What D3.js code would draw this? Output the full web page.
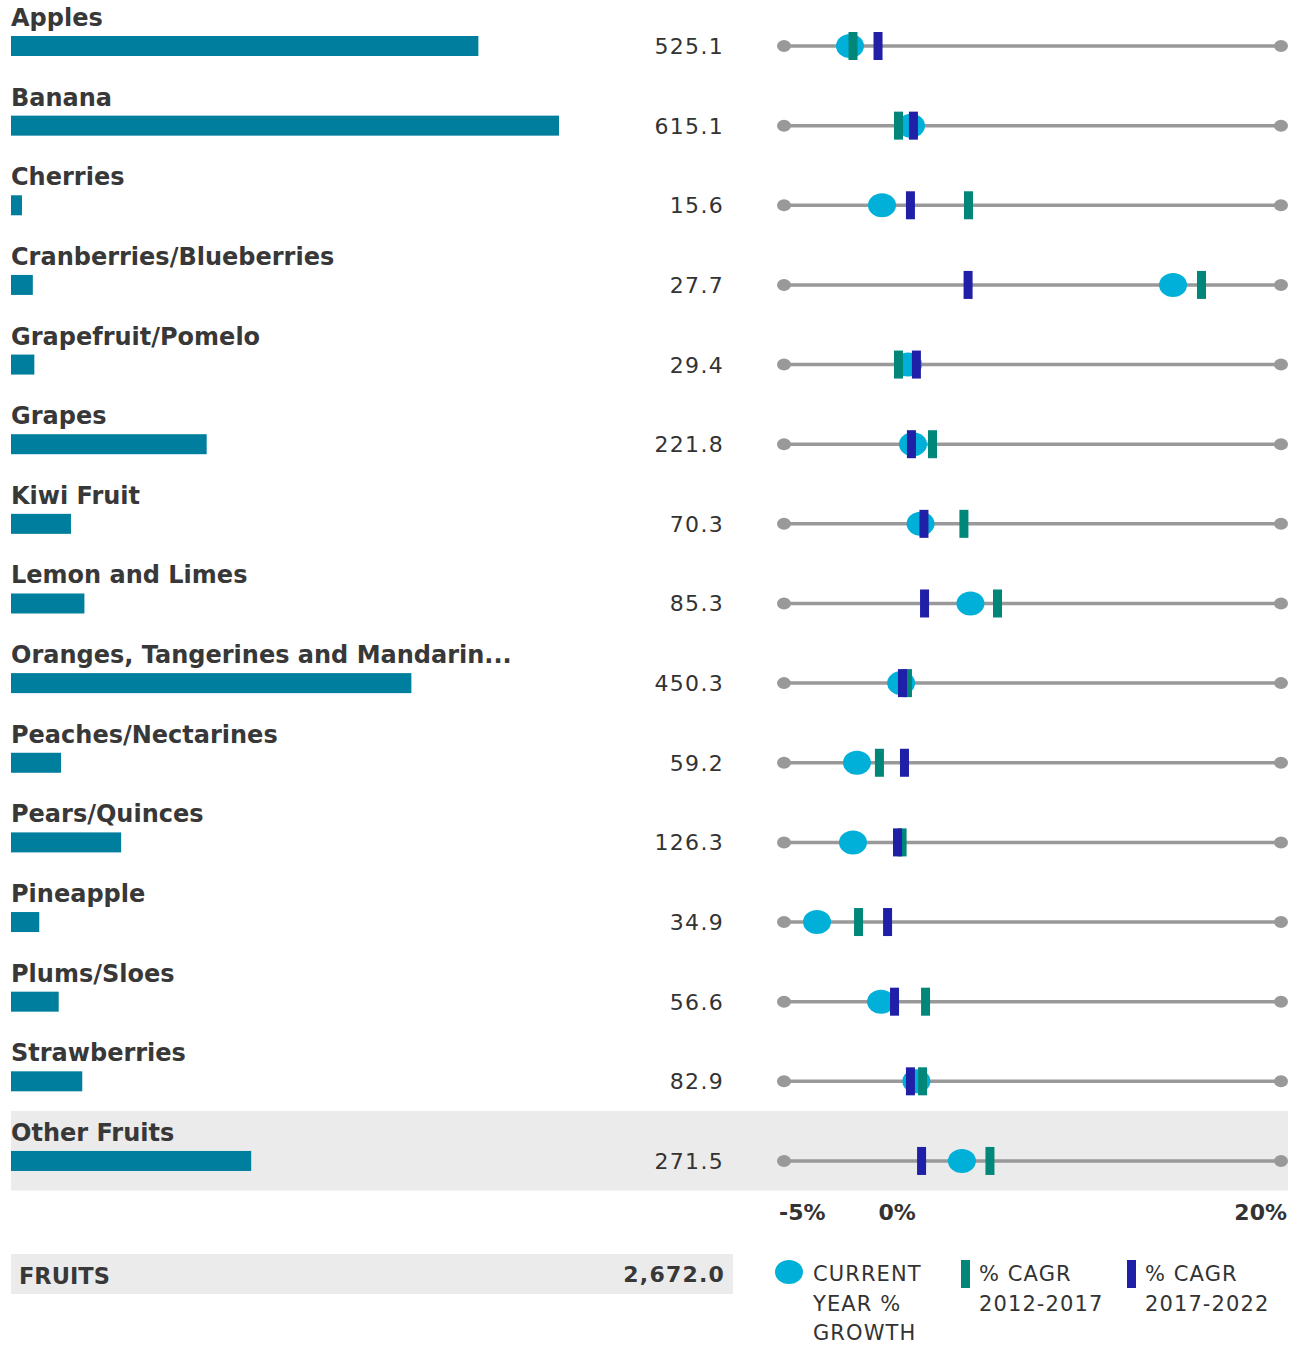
<!DOCTYPE html>
<html>
<head>
<meta charset="utf-8">
<script src="https://cdn.jsdelivr.net/npm/d3@7"></script>
<style>
  body { margin: 0; background: #fff; }
  text { font-family: "DejaVu Sans", Verdana, sans-serif; fill: #333; }
</style>
</head>
<body>
<div id="chart"></div>
<script>
// data
const fruits = ["Apples", "Banana", "Cherries", "Cranberries/Blueberries", "Grapefruit/Pomelo",
    "Grapes", "Kiwi Fruit", "Lemon and Limes", "Oranges, Tangerines and Mandarin...",
    "Peaches/Nectarines", "Pears/Quinces", "Pineapple", "Plums/Sloes", "Strawberries", "Other Fruits"];
const volume = [525.1, 615.1, 15.6, 27.7, 29.4, 221.8, 70.3, 85.3, 450.3, 59.2, 126.3, 34.9, 56.6, 82.9, 271.5];
const currentGrowth = [-1.68, 1.39, -0.07, 14.57, 1.24, 1.49, 1.87, 4.38, 0.89, -1.33, -1.53, -3.34, -0.12, 1.66, 3.95];
const cagr1217 = [-1.53, 0.76, 4.28, 16.0, 0.76, 2.47, 4.05, 5.74, 1.21, -0.2, 0.94, -1.25, 2.12, 1.97, 5.36];
const cagr1722 = [-0.27, 1.51, 1.36, 4.26, 1.66, 1.41, 2.04, 2.07, 0.96, 1.06, 0.71, 0.21, 0.56, 1.36, 1.92];
const growthTicks = [-5, 0, 20];
const totalLabel = "FRUITS";
const totalValue = 2672.0;

const width = 1297, height = 1345;
const colBar = "#007e9e", colCircle = "#00b0d8", colGreen = "#00877a", colBlue = "#1f1fa8";

const svg = d3.select("#chart").append("svg")
    .attr("width", width)
    .attr("height", height);

const rowY = d3.scaleBand()
    .domain(fruits)
    .range([-4, 1190.6]);

// bars start at x=11, scale zero sits a bit left of it
const xBar = d3.scaleLinear()
    .domain([0, d3.max(volume)])
    .range([8, 559]);

const xG = d3.scaleLinear()
    .domain([-5, 20])
    .range([784, 1281]);

const fmt = d3.format(",.1f");

// highlighted last row
svg.append("rect")
    .attr("x", 11).attr("y", rowY("Other Fruits"))
    .attr("width", 1277).attr("height", rowY.bandwidth())
    .attr("fill", "#ebebeb");

const rows = svg.selectAll(".row")
    .data(fruits)
    .enter().append("g")
        .attr("class", "row")
        .attr("transform", d => "translate(0," + rowY(d) + ")");

const mid = 50;

rows.append("text")
    .attr("x", 11).attr("y", mid - 20)
    .style("font-size", "24px")
    .style("font-weight", 700)
    .style("fill", "#383838")
    .text(d => d);

rows.append("rect")
    .attr("x", 11).attr("y", mid - 10)
    .attr("height", 20)
    .attr("width", (d, i) => xBar(volume[i]) - 11)
    .attr("fill", colBar);

rows.append("text")
    .attr("x", 724).attr("y", mid + 8)
    .attr("text-anchor", "end")
    .style("font-size", "22px")
    .style("letter-spacing", "1.3px")
    .text((d, i) => fmt(volume[i]));

// growth track
rows.append("line")
    .attr("x1", xG(-5)).attr("x2", xG(20))
    .attr("y1", mid).attr("y2", mid)
    .attr("stroke", "#999").attr("stroke-width", 3.5);

rows.selectAll(".end")
    .data(xG.domain())
    .enter().append("ellipse")
        .attr("cx", d => xG(d)).attr("cy", mid)
        .attr("rx", 7).attr("ry", 6)
        .attr("fill", "#999");

rows.append("ellipse")
    .attr("cx", (d, i) => xG(currentGrowth[i])).attr("cy", mid)
    .attr("rx", 14).attr("ry", 12)
    .attr("fill", colCircle);

rows.append("rect")
    .attr("x", (d, i) => xG(cagr1217[i]) - 4.5).attr("y", mid - 14)
    .attr("width", 9).attr("height", 28)
    .attr("fill", colGreen);

rows.append("rect")
    .attr("x", (d, i) => xG(cagr1722[i]) - 4.5).attr("y", mid - 14)
    .attr("width", 9).attr("height", 28)
    .attr("fill", colBlue);

// growth axis labels
svg.selectAll(".tick-label")
    .data(growthTicks)
    .enter().append("text")
        .attr("class", "tick-label")
        .attr("x", (d, i) => i == growthTicks.length - 1 ? xG(d) + 6 : xG(d) - 5)
        .attr("y", 1220)
        .attr("text-anchor", (d, i) => i == growthTicks.length - 1 ? "end" : "start")
        .style("font-size", "22px")
        .style("font-weight", 700)
        .text(d => d + "%");

// total row
svg.append("rect")
    .attr("x", 11).attr("y", 1254)
    .attr("width", 722).attr("height", 40)
    .attr("fill", "#ebebeb");
svg.append("text")
    .attr("x", 19).attr("y", 1284)
    .style("font-size", "22.5px").style("font-weight", 700)
    .style("fill", "#383838")
    .text(totalLabel);
svg.append("text")
    .attr("x", 725).attr("y", 1282)
    .attr("text-anchor", "end")
    .style("font-size", "22px").style("font-weight", 700)
    .style("letter-spacing", "1.2px")
    .style("fill", "#383838")
    .text(fmt(totalValue));

// legend
const legend = svg.append("g");
legend.append("ellipse")
    .attr("cx", 789).attr("cy", 1272).attr("rx", 14).attr("ry", 12)
    .attr("fill", colCircle);
legend.append("rect")
    .attr("x", 961).attr("y", 1260).attr("width", 9).attr("height", 28)
    .attr("fill", colGreen);
legend.append("rect")
    .attr("x", 1127).attr("y", 1260).attr("width", 9).attr("height", 28)
    .attr("fill", colBlue);

const legendItems = [
    { x: 813, lines: ["CURRENT", "YEAR %", "GROWTH"] },
    { x: 979, lines: ["% CAGR", "2012-2017"] },
    { x: 1145, lines: ["% CAGR", "2017-2022"] }
];
legendItems.forEach(item => {
    legend.append("text")
        .attr("x", item.x).attr("y", 1281)
        .style("font-size", "21px")
        .style("letter-spacing", "1.1px")
        .selectAll("tspan")
        .data(item.lines)
        .enter().append("tspan")
            .attr("x", item.x)
            .attr("dy", (d, i) => i == 0 ? 0 : 29.5)
            .text(d => d);
});
</script>
</body>
</html>
